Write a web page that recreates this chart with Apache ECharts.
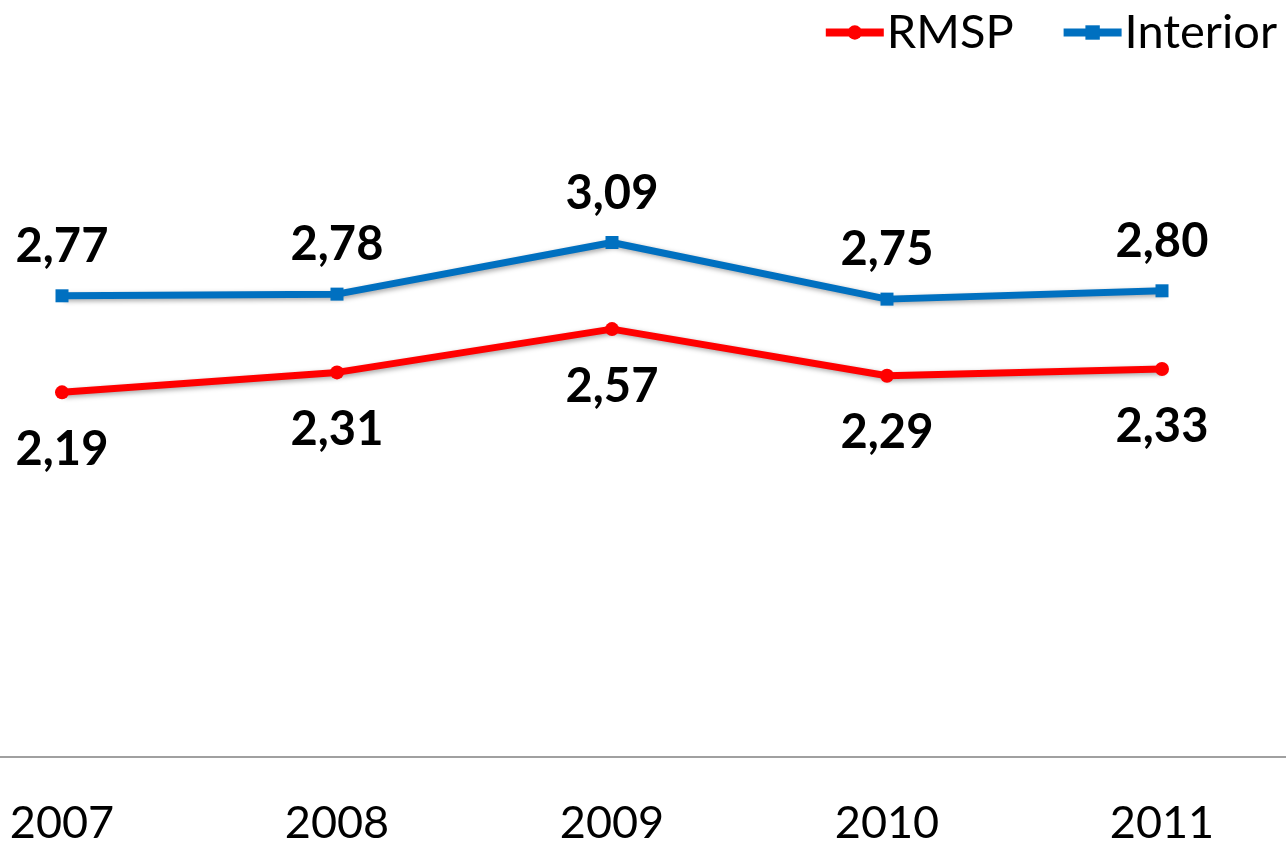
<!DOCTYPE html>
<html>
<head>
<meta charset="utf-8">
<script src="https://cdn.jsdelivr.net/npm/echarts@6/dist/echarts.min.js"></script>
<style>html,body{margin:0;padding:0;background:#fff}#c{width:1286px;height:846px}</style>
</head>
<body>
<div id="c"></div>
<script>
const categories = ['2007', '2008', '2009', '2010', '2011'];
const rmsp = [2.19, 2.31, 2.57, 2.29, 2.33];
const interior = [2.77, 2.78, 3.09, 2.75, 2.80];
const seriesNames = ['RMSP', 'Interior'];

const FONT = 'Lato, "Open Sans", sans-serif';
const fmt = p => p.value[1].toFixed(2).replace('.', ',');
const idx = categories.map((c, i) => i);
const chart = echarts.init(document.getElementById('c'), null, {renderer: 'canvas'});
chart.setOption({
  animation: false,
  backgroundColor: '#ffffff',
  legend: {
    right: 4, top: 4,
    itemWidth: 58, itemHeight: 18, itemGap: 46,
    lineStyle: {width: 8},
    textStyle: {fontFamily: FONT, fontSize: 47, color: '#000', padding: [0,0,0,-2]},
    data: seriesNames
  },
  grid: {left: 0, right: 0, top: 91, bottom: 88},
  xAxis: {
    type: 'value', min: -62 / 275, max: 4 + 124 / 275,
    splitLine: {show: false},
    axisLine: {lineStyle: {color: '#a0a0a0', width: 2}},
    axisTick: {show: false},
    axisLabel: {customValues: idx, formatter: v => categories[Math.round(v)] || '',
      fontFamily: FONT, fontSize: 45, color: '#000', margin: 44}
  },
  yAxis: {type: 'value', min: 0, max: 4, show: false, splitLine: {show: false}},
  series: [
    {
      name: seriesNames[0], type: 'line', data: rmsp.map((v, i) => [idx[i], v]),
      symbol: 'circle', symbolSize: 14,
      itemStyle: {color: '#ff0000'},
      lineStyle: {color: '#ff0000', width: 7, shadowColor: 'rgba(0,0,0,0.35)', shadowBlur: 5, shadowOffsetX: 2, shadowOffsetY: 2},
      label: {show: true, position: 'bottom', distance: 27, formatter: fmt,
        fontFamily: FONT, fontSize: 47, fontWeight: 'bold', color: '#000'}
    },
    {
      name: seriesNames[1], type: 'line', data: interior.map((v, i) => [idx[i], v]),
      symbol: 'rect', symbolSize: 13,
      itemStyle: {color: '#0070c0'},
      lineStyle: {color: '#0070c0', width: 7, shadowColor: 'rgba(0,0,0,0.35)', shadowBlur: 5, shadowOffsetX: 2, shadowOffsetY: 2},
      label: {show: true, position: 'top', distance: 19, formatter: fmt,
        fontFamily: FONT, fontSize: 47, fontWeight: 'bold', color: '#000'}
    }
  ]
});
</script>
</body>
</html>
